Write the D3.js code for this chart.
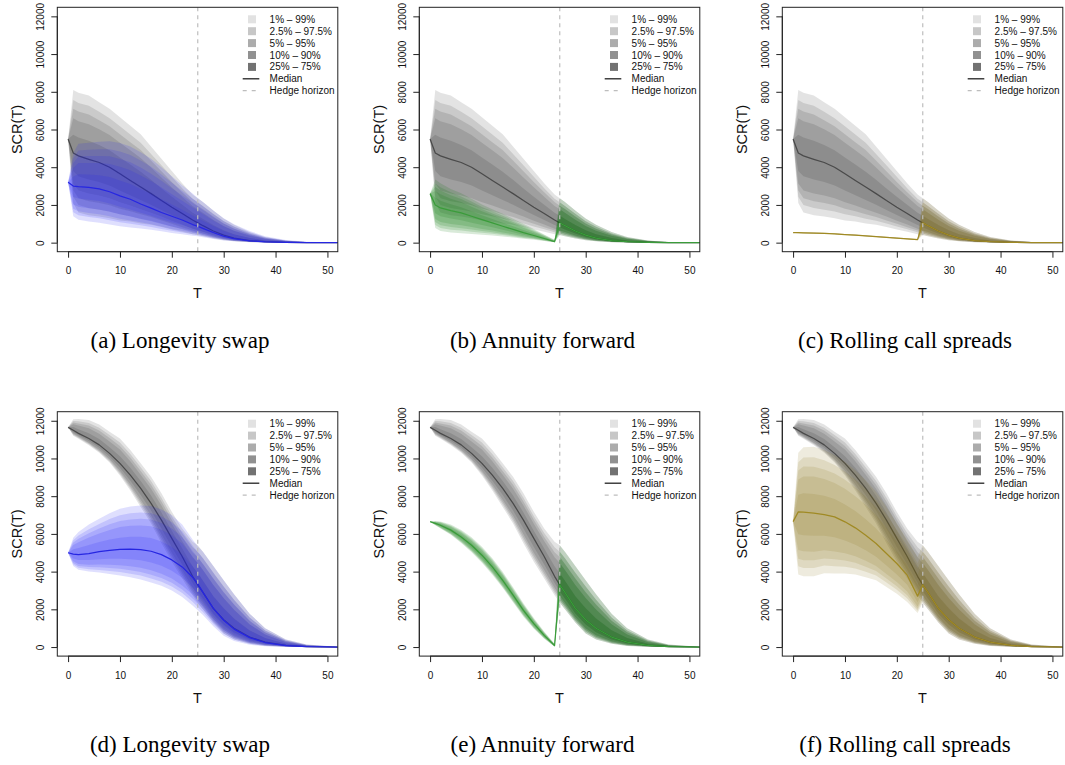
<!DOCTYPE html>
<html>
<head>
<meta charset="utf-8">
<script src="https://cdn.jsdelivr.net/npm/d3@7"></script>
<style>
  html, body { margin: 0; padding: 0; background: #fff; }
  svg { display: block; }
</style>
</head>
<body>
<svg id="fig" width="1065" height="765"></svg>
<script>
// ---- time grid (years) ----
const T_GRID = [0, 1, 2, 4, 6, 8, 10, 12, 14, 16, 18, 20, 22, 24, 25, 26, 28, 30, 32, 35, 38, 42, 46, 52];
const T_PRE  = [0, 1, 2, 4, 6, 8, 10, 12, 14, 16, 18, 20, 22, 24];
const HEDGE_HORIZON = 25;

// quantile rows, in order: 1%, 2.5%, 5%, 10%, 25%, 50%, 75%, 90%, 95%, 97.5%, 99%
const QUANTILES = ["1%", "2.5%", "5%", "10%", "25%", "50%", "75%", "90%", "95%", "97.5%", "99%"];

// unhedged SCR(T), first scenario set
const unhedgedTop = [
  [5500,2100,1600,1450,1380,1300,1180,1120,1020,950,830,700,580,450,400,340,220,130,70,25,8,2,0,0],
  [5500,2440,1990,1840,1750,1650,1500,1400,1270,1160,1010,850,710,550,480,410,270,165,90,35,13,4,1,0],
  [5500,2760,2350,2190,2100,1980,1800,1670,1500,1360,1180,1000,820,640,560,480,320,200,110,45,18,5,1,0],
  [5500,3130,2770,2610,2500,2350,2140,1970,1770,1590,1380,1160,960,740,650,560,380,240,140,60,25,7,2,0],
  [5500,3800,3520,3350,3220,3030,2760,2520,2260,2010,1730,1460,1200,930,820,700,480,300,180,80,35,10,3,0],
  [5500,4750,4600,4420,4250,4000,3650,3300,2950,2600,2230,1880,1550,1200,1050,900,620,400,240,110,50,15,4,0],
  [5500,5720,5570,5400,5180,4900,4520,4140,3760,3330,2870,2440,2010,1590,1430,1260,930,660,450,240,120,45,14,1],
  [5500,6590,6440,6280,6010,5710,5300,4900,4490,3980,3450,2940,2430,1940,1770,1590,1210,880,630,360,190,75,24,2],
  [5500,7100,6950,6790,6490,6170,5750,5330,4910,4350,3780,3220,2670,2150,1960,1780,1380,1020,740,430,225,90,29,3],
  [5500,7560,7410,7260,6940,6600,6170,5740,5300,4700,4100,3490,2890,2330,2140,1950,1530,1140,840,490,260,100,34,4],
  [5500,8100,7950,7800,7450,7100,6650,6200,5750,5100,4450,3800,3150,2550,2350,2150,1700,1280,950,560,300,120,40,5]
];

// unhedged SCR(T), second scenario set
const unhedgedBottom = [
  [11650,11200,11050,10700,10300,9780,9100,8300,7430,6550,5500,4520,3630,2750,2350,2000,1300,720,400,170,60,12,2,0],
  [11650,11240,11090,10750,10350,9840,9180,8410,7560,6690,5660,4680,3780,2880,2470,2120,1400,815,480,220,85,20,5,0],
  [11650,11280,11120,10790,10400,9900,9260,8500,7680,6820,5810,4830,3920,3000,2590,2230,1490,900,550,260,110,30,8,0],
  [11650,11320,11160,10840,10460,9970,9350,8620,7810,6970,5980,5000,4090,3140,2720,2350,1590,1000,630,310,140,40,11,1],
  [11650,11390,11230,10930,10570,10090,9510,8820,8060,7240,6290,5310,4380,3390,2960,2580,1780,1190,780,400,190,60,17,1],
  [11650,11500,11330,11060,10720,10270,9740,9120,8410,7620,6730,5760,4800,3750,3300,2900,2050,1450,1000,530,260,90,25,2],
  [11650,11670,11550,11340,11030,10600,10120,9510,8800,8030,7140,6170,5230,4280,3910,3520,2700,2060,1520,890,475,180,55,6],
  [11650,11820,11750,11600,11310,10900,10470,9850,9140,8400,7510,6540,5620,4760,4460,4080,3290,2600,1990,1210,670,260,85,9],
  [11650,11910,11860,11750,11480,11080,10660,10050,9340,8610,7720,6750,5840,5030,4770,4400,3630,2910,2260,1400,780,310,100,11],
  [11650,11990,11970,11880,11630,11240,10850,10240,9530,8800,7920,6940,6050,5290,5060,4710,3940,3210,2510,1570,880,350,110,13],
  [11650,12080,12090,12040,11800,11420,11060,10450,9740,9030,8150,7170,6290,5580,5400,5050,4300,3540,2800,1770,1000,400,130,15]
];

// longevity swap, full grid
const swapTop = [
  [3200,1400,1220,1120,1060,960,870,800,750,680,600,510,440,370,340,290,200,120,70,30,10,3,1,0],
  [3200,1610,1450,1360,1290,1190,1080,1000,920,830,730,630,540,450,405,350,240,150,90,40,15,4,1,0],
  [3200,1800,1660,1570,1510,1400,1270,1180,1080,970,850,730,630,520,470,410,285,175,105,45,20,6,2,0],
  [3200,2020,1900,1830,1760,1640,1500,1390,1260,1130,990,860,740,600,540,470,330,210,125,55,25,7,2,0],
  [3200,2420,2340,2280,2210,2070,1900,1760,1580,1420,1240,1080,930,750,680,590,420,260,160,75,30,10,3,0],
  [3200,3000,2970,2930,2850,2700,2480,2300,2050,1830,1600,1400,1200,960,870,760,540,340,210,100,45,14,4,0],
  [3200,3510,3630,3620,3580,3480,3290,3110,2850,2590,2300,2020,1740,1440,1310,1160,880,620,430,250,130,50,15,2],
  [3200,3960,4220,4230,4230,4170,4020,3840,3560,3270,2920,2570,2220,1860,1700,1520,1180,870,630,390,210,85,30,3],
  [3200,4230,4570,4590,4600,4580,4440,4260,3980,3660,3280,2880,2500,2110,1920,1730,1350,1010,750,460,250,100,35,4],
  [3200,4470,4890,4920,4950,4950,4830,4650,4360,4030,3620,3180,2750,2340,2130,1930,1510,1150,860,540,290,120,40,5],
  [3200,4750,5250,5300,5350,5380,5280,5100,4800,4450,4000,3520,3050,2600,2370,2150,1700,1300,980,620,340,140,50,6]
];
const swapBottom = [
  [5000,4300,4100,4000,3950,3870,3800,3700,3580,3420,3250,3000,2650,2200,1950,1700,1100,600,320,120,40,8,1,0],
  [5000,4380,4200,4130,4090,4030,3980,3890,3790,3640,3460,3210,2860,2400,2130,1860,1220,710,400,170,65,17,4,0],
  [5000,4460,4300,4240,4230,4190,4150,4070,3980,3840,3660,3410,3050,2580,2300,2000,1340,805,480,215,90,25,6,0],
  [5000,4550,4410,4370,4380,4360,4340,4280,4200,4070,3890,3630,3270,2790,2500,2170,1470,920,570,270,120,35,9,1],
  [5000,4700,4610,4610,4660,4680,4680,4650,4600,4480,4310,4040,3670,3160,2850,2470,1710,1130,720,360,170,55,14,1],
  [5000,4930,4900,4960,5060,5130,5180,5190,5170,5080,4900,4620,4250,3700,3350,2900,2050,1420,950,500,240,80,22,2],
  [5000,5180,5250,5410,5570,5700,5800,5850,5850,5780,5600,5310,4900,4280,3930,3520,2700,2040,1490,870,460,175,53,6],
  [5000,5410,5560,5810,6020,6210,6360,6430,6450,6400,6220,5930,5490,4800,4450,4080,3290,2590,1970,1200,660,255,80,9],
  [5000,5540,5740,6040,6280,6510,6690,6770,6800,6760,6580,6290,5830,5100,4750,4400,3630,2900,2250,1390,770,305,100,11],
  [5000,5660,5910,6250,6520,6790,6990,7090,7130,7100,6920,6620,6140,5380,5030,4710,3940,3200,2500,1570,880,350,110,13],
  [5000,5800,6100,6500,6800,7100,7330,7450,7500,7480,7300,7000,6500,5700,5350,5050,4300,3540,2800,1770,1000,400,130,15]
];

// annuity forward, up to the hedge horizon
const forwardTopPre = [
  [2600,780,620,540,500,460,420,380,330,270,210,160,90,20],
  [2600,940,780,690,640,580,520,470,400,330,250,190,105,22],
  [2600,1090,925,830,770,700,620,550,465,380,290,215,120,25],
  [2600,1260,1100,990,920,830,730,640,540,440,335,250,140,30],
  [2600,1560,1400,1280,1190,1060,930,810,680,545,415,300,170,40],
  [2600,2000,1840,1700,1580,1400,1220,1050,870,700,530,380,220,50],
  [2600,2390,2220,2030,1880,1670,1450,1260,1060,865,670,480,280,80],
  [2600,2740,2560,2330,2150,1910,1660,1450,1230,1010,790,570,340,105],
  [2600,2950,2760,2510,2310,2050,1780,1550,1330,1100,860,620,370,120],
  [2600,3130,2940,2670,2450,2180,1890,1660,1420,1180,925,670,400,135],
  [2600,3350,3150,2850,2620,2330,2020,1770,1530,1270,1000,720,430,150]
];
const forwardBottomPre = [
  [6650,6460,6290,5950,5520,5030,4470,3840,3140,2370,1610,970,440,20],
  [6650,6470,6310,5980,5560,5080,4520,3895,3190,2420,1655,1005,465,28],
  [6650,6485,6330,6010,5600,5120,4570,3940,3240,2465,1695,1035,485,35],
  [6650,6500,6355,6050,5645,5175,4625,4000,3295,2520,1745,1075,510,43],
  [6650,6525,6400,6110,5725,5265,4725,4100,3395,2615,1830,1145,555,58],
  [6650,6560,6460,6200,5840,5400,4870,4250,3540,2750,1950,1240,620,80],
  [6650,6595,6520,6290,5950,5520,5000,4385,3670,2870,2055,1325,680,105],
  [6650,6630,6570,6365,6045,5630,5120,4500,3790,2980,2155,1405,730,130],
  [6650,6640,6600,6410,6100,5695,5185,4570,3855,3045,2210,1450,760,145],
  [6650,6660,6630,6450,6150,5750,5250,4640,3920,3100,2260,1490,790,155],
  [6650,6680,6660,6500,6210,5820,5320,4710,3990,3170,2320,1540,820,170]
];

// rolling call spreads, up to the hedge horizon
const spreadsTopPre = [
  [530,495,490,480,465,440,400,370,330,290,250,210,170,130],
  [530,500,495,485,470,445,405,375,335,295,255,215,175,135],
  [530,505,500,490,475,450,410,380,340,300,260,220,180,140],
  [530,510,505,495,480,455,415,385,345,305,265,225,185,145],
  [530,517,512,502,487,462,422,392,352,312,272,232,192,152],
  [530,525,520,510,495,470,430,400,360,320,280,240,200,160],
  [530,533,528,518,503,478,438,408,368,328,288,248,208,168],
  [530,541,536,526,511,486,446,416,376,336,296,256,216,176],
  [530,547,542,532,517,492,452,422,382,342,302,262,222,182],
  [530,553,548,538,523,498,458,428,388,348,308,268,228,188],
  [530,560,555,545,530,505,465,435,395,355,315,275,235,195]
];
const spreadsBottomPre = [
  [6650,3850,3750,3760,3920,3900,3900,3850,3700,3540,3190,2830,2390,1800],
  [6650,4280,4190,4190,4320,4290,4260,4170,3990,3790,3420,3040,2580,1920],
  [6650,4680,4600,4600,4700,4650,4590,4470,4260,4030,3630,3230,2750,2030],
  [6650,5150,5080,5060,5130,5070,4970,4810,4570,4300,3880,3450,2940,2150],
  [6650,5980,5930,5900,5900,5820,5650,5430,5130,4790,4320,3850,3300,2380],
  [6650,7170,7160,7100,7020,6900,6640,6320,5930,5490,4960,4430,3810,2700],
  [6650,8080,8160,8120,8020,7850,7560,7210,6780,6290,5680,5050,4350,3300],
  [6650,8890,9050,9040,8910,8700,8390,8000,7540,7000,6320,5600,4830,3840],
  [6650,9360,9570,9560,9420,9200,8870,8460,7970,7410,6690,5910,5110,4160],
  [6650,9800,10050,10060,9900,9660,9310,8890,8380,7790,7040,6210,5370,4450],
  [6650,10300,10600,10620,10450,10180,9820,9380,8850,8230,7430,6550,5670,4780]
];

// axes, legend and captions
const X_TICKS = [0, 10, 20, 30, 40, 50];
const Y_TICKS = [0, 2000, 4000, 6000, 8000, 10000, 12000];
const BAND_LABELS = ["1% \u2013 99%", "2.5% \u2013 97.5%", "5% \u2013 95%", "10% \u2013 90%", "25% \u2013 75%"];
const LEGEND_SWATCHES = ["#e2e2e2", "#c7c7c7", "#acacac", "#919191", "#727272"];
const CAPTIONS = ["(a) Longevity swap", "(b) Annuity forward", "(c) Rolling call spreads",
                  "(d) Longevity swap", "(e) Annuity forward", "(f) Rolling call spreads"];

// ---- helpers ----
// a hedge only covers the years up to the horizon; afterwards the position is unhedged
function joinAtHorizon(pre, unhedged) {
  const start = T_GRID.indexOf(HEDGE_HORIZON);
  return pre.map((row, i) => row.concat(unhedged[i].slice(start)));
}

const STYLE = {
  grey:  { fill: "#000000", opacity: 0.11, line: "#4a4a4a" },
  blue:  { fill: "rgb(30,30,245)", opacity: 0.14, line: "#2626e2" },
  green: { fill: "rgb(0,115,0)", opacity: 0.15, line: "#3a9c3a" },
  olive: { fill: "rgb(135,115,20)", opacity: 0.14, line: "#a08a24" }
};

const panels = [
  { base: unhedgedTop,    hedged: swapTop,                                    style: STYLE.blue,  col: 0, row: 0 },
  { base: unhedgedTop,    hedged: joinAtHorizon(forwardTopPre, unhedgedTop),  style: STYLE.green, col: 1, row: 0 },
  { base: unhedgedTop,    hedged: joinAtHorizon(spreadsTopPre, unhedgedTop),  style: STYLE.olive, col: 2, row: 0 },
  { base: unhedgedBottom, hedged: swapBottom,                                 style: STYLE.blue,  col: 0, row: 1 },
  { base: unhedgedBottom, hedged: joinAtHorizon(forwardBottomPre, unhedgedBottom), style: STYLE.green, col: 1, row: 1 },
  { base: unhedgedBottom, hedged: joinAtHorizon(spreadsBottomPre, unhedgedBottom), style: STYLE.olive, col: 2, row: 1 }
];

// ---- layout ----
const BOX_LEFT = [57.3, 419.3, 782.3];
const BOX_TOP = [7.3, 411.7];
const BOX_W = 280.5, BOX_H = 244.4;
const CAPTION_X = [180, 542.5, 905];
const CAPTION_Y = [348, 752];

const svg = d3.select("#fig");
const SANS = "'Liberation Sans', Arial, Helvetica, sans-serif";

panels.forEach((p, idx) => {
  const L = BOX_LEFT[p.col], T = BOX_TOP[p.row];
  const x = d3.scaleLinear().domain([-2.08, 52]).range([L, L + BOX_W]);
  const y = d3.scaleLinear().domain([-480, 12480]).range([T + BOX_H, T]);
  const g = svg.append("g");

  const clipId = "clip" + idx;
  g.append("clipPath").attr("id", clipId)
    .append("rect").attr("x", L).attr("y", T).attr("width", BOX_W).attr("height", BOX_H);
  const plot = g.append("g").attr("clip-path", `url(#${clipId})`);

  // fan of quantile bands: outer pair first, inner pairs stack on top
  function drawFan(rows, style) {
    const n = rows.length;
    for (let k = 0; k < (n - 1) / 2; k++) {
      const lo = rows[k], hi = rows[n - 1 - k];
      const area = d3.area()
        .x((d, i) => x(T_GRID[i]))
        .y0((d, i) => y(lo[i]))
        .y1((d, i) => y(hi[i]));
      plot.append("path").datum(lo)
        .attr("d", area)
        .attr("fill", style.fill)
        .attr("fill-opacity", style.opacity)
        .attr("stroke", "none");
    }
    const med = rows[(n - 1) / 2];
    const line = d3.line().x((d, i) => x(T_GRID[i])).y(d => y(d));
    plot.append("path").datum(med)
      .attr("d", line)
      .attr("fill", "none")
      .attr("stroke", style.line)
      .attr("stroke-width", 1.25)
      .attr("stroke-linejoin", "round");
  }

  drawFan(p.base, STYLE.grey);
  drawFan(p.hedged, p.style);

  // hedge horizon marker
  plot.append("line")
    .attr("x1", x(HEDGE_HORIZON)).attr("x2", x(HEDGE_HORIZON))
    .attr("y1", T).attr("y2", T + BOX_H)
    .attr("stroke", "#bdbdbd").attr("stroke-width", 1.2)
    .attr("stroke-dasharray", "4,4");

  // frame
  g.append("rect").attr("x", L).attr("y", T).attr("width", BOX_W).attr("height", BOX_H)
    .attr("fill", "none").attr("stroke", "#222").attr("stroke-width", 1);

  // x axis
  const xAxis = d3.axisBottom(x).tickValues(X_TICKS).tickSize(6).tickPadding(5);
  const gx = g.append("g").attr("transform", `translate(0,${T + BOX_H})`).call(xAxis);
  gx.select(".domain").attr("d", `M${x(0)},0H${x(50)}`).attr("stroke", "#222");
  gx.selectAll(".tick line").attr("stroke", "#222");
  gx.selectAll(".tick text").attr("font-family", SANS).attr("font-size", 10).attr("fill", "#111")
    .attr("y", 19).attr("dy", "0.35em");

  // y axis, labels parallel to the axis
  const yAxis = d3.axisLeft(y).tickValues(Y_TICKS).tickSize(6).tickFormat(d3.format("d"));
  const gy = g.append("g").attr("transform", `translate(${L},0)`).call(yAxis);
  gy.select(".domain").attr("d", `M0,${y(0)}V${y(12000)}`).attr("stroke", "#222");
  gy.selectAll(".tick line").attr("stroke", "#222");
  gy.selectAll(".tick text")
    .attr("font-family", SANS).attr("font-size", 10).attr("fill", "#111")
    .attr("x", null).attr("dy", null)
    .attr("text-anchor", "middle")
    .attr("transform", "translate(-17,0) rotate(-90)")
    .attr("dy", "0.35em");

  // axis titles
  g.append("text")
    .attr("transform", `translate(${L - 40.5},${T + BOX_H / 2}) rotate(-90)`)
    .attr("text-anchor", "middle").attr("dy", "0.35em")
    .attr("font-family", SANS).attr("font-size", 14.5).attr("fill", "#111")
    .text("SCR(T)");
  g.append("text")
    .attr("x", L + BOX_W / 2).attr("y", T + BOX_H + 41.5)
    .attr("text-anchor", "middle").attr("dy", "0.35em")
    .attr("font-family", SANS).attr("font-size", 14.5).attr("fill", "#111")
    .text("T");

  // legend
  const lg = g.append("g").attr("font-family", SANS).attr("font-size", 10).attr("fill", "#111");
  const rowY = k => T + 12 + k * 11.9;
  BAND_LABELS.forEach((lab, k) => {
    lg.append("rect").attr("x", L + 190.7).attr("y", rowY(k) - 4).attr("width", 8).attr("height", 8)
      .attr("fill", LEGEND_SWATCHES[k]);
    lg.append("text").attr("x", L + 212.3).attr("y", rowY(k)).attr("dy", "0.35em").text(lab);
  });
  lg.append("line").attr("x1", L + 185.4).attr("x2", L + 202).attr("y1", rowY(5)).attr("y2", rowY(5))
    .attr("stroke", "#222").attr("stroke-width", 1.3);
  lg.append("text").attr("x", L + 212.3).attr("y", rowY(5)).attr("dy", "0.35em").text("Median");
  lg.append("line").attr("x1", L + 185.4).attr("x2", L + 202).attr("y1", rowY(6)).attr("y2", rowY(6))
    .attr("stroke", "#bdbdbd").attr("stroke-width", 1.3).attr("stroke-dasharray", "4,5");
  lg.append("text").attr("x", L + 212.3).attr("y", rowY(6)).attr("dy", "0.35em").text("Hedge horizon");

  // sub-figure caption
  svg.append("text")
    .attr("x", CAPTION_X[p.col]).attr("y", CAPTION_Y[p.row])
    .attr("text-anchor", "middle")
    .attr("font-family", "'Liberation Serif', 'Times New Roman', serif")
    .attr("font-size", 23).attr("fill", "#000")
    .text(CAPTIONS[idx]);
});
</script>
</body>
</html>
